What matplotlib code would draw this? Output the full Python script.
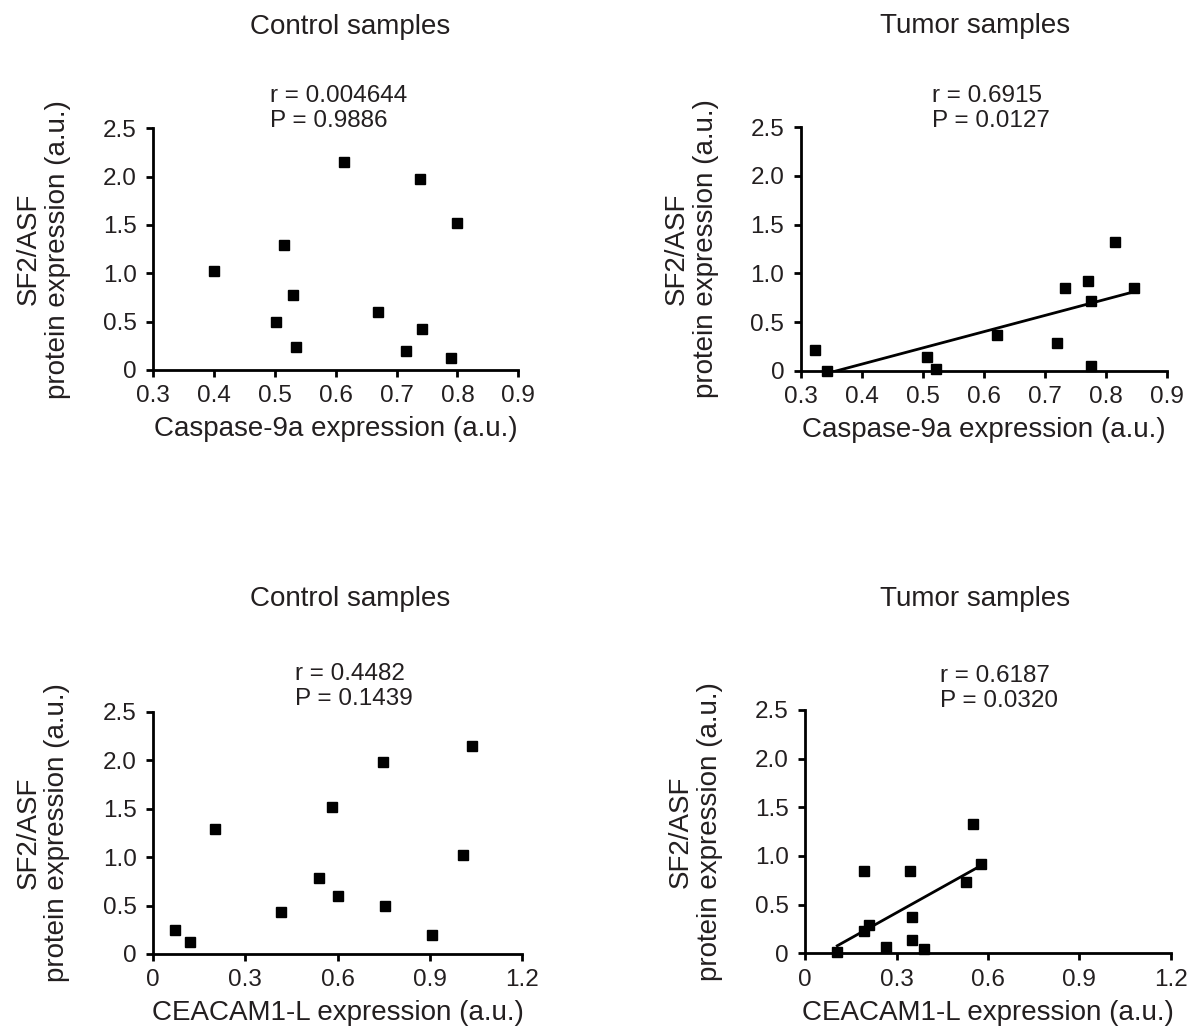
import matplotlib
matplotlib.use('Agg')
import matplotlib.pyplot as plt
import numpy as np

plt.rcParams['font.family'] = ['Liberation Sans', 'DejaVu Sans']

# Data
ctrl_casp_x = [0.400, 0.515, 0.614, 0.739, 0.799, 0.529, 0.502, 0.535, 0.670, 0.742, 0.716, 0.789]
ctrl_casp_y = [1.02, 1.29, 2.15, 1.98, 1.52, 0.78, 0.50, 0.24, 0.60, 0.42, 0.20, 0.12]

tum_casp_x = [0.323, 0.342, 0.507, 0.521, 0.622, 0.720, 0.733, 0.771, 0.775, 0.775, 0.815, 0.846]
tum_casp_y = [0.21, 0.00, 0.14, 0.02, 0.37, 0.28, 0.85, 0.92, 0.72, 0.05, 1.32, 0.85]

ctrl_ceac_x = [0.072, 0.120, 0.202, 0.416, 0.540, 0.582, 0.602, 0.748, 0.755, 0.908, 1.008, 1.039]
ctrl_ceac_y = [0.25, 0.12, 1.29, 0.43, 0.78, 1.52, 0.60, 1.98, 0.50, 0.20, 1.02, 2.15]

tum_ceac_x = [0.105, 0.193, 0.193, 0.210, 0.266, 0.344, 0.352, 0.351, 0.391, 0.528, 0.552, 0.577]
tum_ceac_y = [0.01, 0.85, 0.23, 0.29, 0.06, 0.85, 0.37, 0.14, 0.04, 0.73, 1.33, 0.92]

stats = [('r = 0.004644', 'P = 0.9886'), ('r = 0.6915', 'P = 0.0127'),
         ('r = 0.4482', 'P = 0.1439'), ('r = 0.6187', 'P = 0.0320')]
titles = ['Control samples', 'Tumor samples', 'Control samples', 'Tumor samples']

casp_ticks = [0.3, 0.4, 0.5, 0.6, 0.7, 0.8, 0.9]
casp_labels = ['0.3', '0.4', '0.5', '0.6', '0.7', '0.8', '0.9']
ceac_ticks = [0, 0.3, 0.6, 0.9, 1.2]
ceac_labels = ['0', '0.3', '0.6', '0.9', '1.2']
y_ticks = [0, 0.5, 1.0, 1.5, 2.0, 2.5]
y_labels = ['0', '0.5', '1.0', '1.5', '2.0', '2.5']

W, H = 1194, 1029
TXT = '#231f20'


def px(x0, y0, x1, y1):
    # pixel box (left, top, right, bottom) -> figure fraction rect
    return [x0 / W, 1 - y1 / H, (x1 - x0) / W, (y1 - y0) / H]


def panel(ax, x, y, ticks, labels, xlabel, fit):
    ax.plot(x, y, 's', color='black', markersize=7.5, clip_on=False, zorder=3)
    if fit:
        k, b = np.polyfit(x, y, 1)
        xs = np.array([min(x), max(x)])
        ax.plot(xs, k * xs + b, color='black', lw=2.0)

    ax.set_xlim(ticks[0], ticks[-1])
    ax.set_ylim(0, 2.5)
    ax.set_xticks(ticks)
    ax.set_xticklabels(labels)
    ax.set_yticks(y_ticks)
    ax.set_yticklabels(y_labels)

    # Visuals
    for s in ['top', 'right']:
        ax.spines[s].set_visible(False)
    for s in ['left', 'bottom']:
        ax.spines[s].set_linewidth(2.0)
    ax.tick_params(direction='out', length=5, width=2.0, labelsize=17.5,
                   colors='black', labelcolor=TXT)
    ax.tick_params(axis='x', pad=6)
    ax.tick_params(axis='y', pad=7)

    # Labels
    ax.set_xlabel(xlabel, fontsize=20, color=TXT)
    ax.xaxis.set_label_coords(0.5, -0.19)
    ax.set_ylabel('SF2/ASF\nprotein expression (a.u.)', fontsize=20, color=TXT,
                  multialignment='center', linespacing=1.15)
    ax.yaxis.set_label_coords(-0.225, 0.5)


fig = plt.figure(figsize=(W / 100, H / 100), dpi=100)

ax1 = fig.add_axes(px(153.3, 128.3, 518.3, 370))
ax2 = fig.add_axes(px(801, 127.3, 1167, 370.7))
ax3 = fig.add_axes(px(153.3, 711.7, 521.7, 954))
ax4 = fig.add_axes(px(805.3, 710, 1170.7, 953.3))

panel(ax1, ctrl_casp_x, ctrl_casp_y, casp_ticks, casp_labels, 'Caspase-9a expression (a.u.)', False)
panel(ax2, tum_casp_x, tum_casp_y, casp_ticks, casp_labels, 'Caspase-9a expression (a.u.)', True)
panel(ax3, ctrl_ceac_x, ctrl_ceac_y, ceac_ticks, ceac_labels, 'CEACAM1-L expression (a.u.)', False)
panel(ax4, tum_ceac_x, tum_ceac_y, ceac_ticks, ceac_labels, 'CEACAM1-L expression (a.u.)', True)

# Titles and stats (pixel positions)
title_pos = [(350, 34), (975, 33), (350, 606), (975, 606)]
stat_pos = [(270, 102), (932, 102), (295, 680), (940, 682)]
for t, (tx, ty), (r, p), (sx, sy) in zip(titles, title_pos, stats, stat_pos):
    fig.text(tx / W, 1 - ty / H, t, ha='center', va='baseline', fontsize=20, color=TXT)
    fig.text(sx / W, 1 - sy / H, r, ha='left', va='baseline', fontsize=17.5, color=TXT)
    fig.text(sx / W, 1 - (sy + 25) / H, p, ha='left', va='baseline', fontsize=17.5, color=TXT)

fig.savefig('out.png', dpi=100)
